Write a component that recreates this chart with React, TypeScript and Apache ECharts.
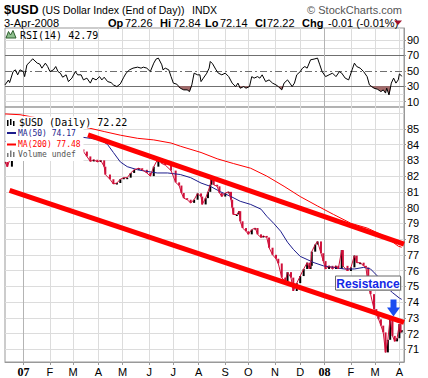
import React, { useEffect, useRef } from "react";
import * as echarts from "echarts";

// Trading-day offsets (weekdays only): 0 = Mon 1 Jan 2007
const FIRST_DAY = -16; // Fri 8 Dec 2006
const LAST_DAY = 330;

// [trading day, close]
const priceCloses: [number, number][] = [
  [-16, 82.9], [-14, 82.6], [-10, 83.4], [-5, 83.7], [0, 84.0], [5, 84.6], [10, 84.9], [15, 84.4],
  [20, 84.2], [25, 84.5], [30, 84.1], [35, 83.6], [40, 83.9], [45, 83.3], [50, 83.7], [52, 83.56],
  [55, 83.25], [58, 82.93], [61, 83.04], [64, 82.9], [67, 83.0], [70, 82.6], [71, 82.1], [75, 81.8],
  [78, 81.5], [81, 81.56], [84, 81.8], [87, 81.9], [90, 81.9], [93, 82.2], [96, 82.4], [100, 82.5],
  [103, 82.4], [107, 82.2], [110, 82.0], [113, 82.6], [117, 83.15], [120, 82.8], [123, 82.7], [128, 82.35],
  [132, 81.6], [135, 81.4], [137, 80.93], [139, 80.6], [142, 80.5], [145, 80.3], [148, 80.5], [151, 80.9],
  [154, 80.7], [155, 80.2], [158, 80.6], [160, 81.0], [162, 81.45], [163, 82.0], [165, 81.45], [168, 81.35],
  [170, 80.93], [172, 80.7], [175, 80.93], [178, 81.0], [180, 80.5], [181, 80.0], [182, 79.56], [185, 79.56],
  [187, 79.77], [188, 79.13], [190, 78.7], [193, 78.5], [195, 78.3], [198, 78.6], [201, 78.7], [203, 78.3],
  [206, 78.1], [208, 78.2], [211, 78.1], [213, 77.45], [216, 77.0], [219, 76.75], [221, 76.45], [224, 75.55],
  [227, 75.3], [229, 75.9], [232, 75.55], [234, 74.7], [237, 75.2], [240, 75.65], [243, 76.1], [246, 76.5],
  [248, 76.1], [249, 76.3], [250, 77.2], [253, 77.65], [255, 77.85], [258, 77.1], [260, 76.6], [262, 76.1],
  [265, 76.3], [268, 76.1], [271, 76.3], [273, 76.1], [276, 77.3], [277, 76.3], [281, 75.97], [284, 76.2],
  [287, 76.95], [289, 76.5], [292, 76.5], [295, 76.3], [297, 76.2], [299, 75.0], [301, 74.5], [304, 73.55],
  [306, 73.2], [308, 72.9], [310, 72.5], [312, 72.07], [314, 70.8], [316, 71.6], [318, 73.0], [320, 71.85],
  [322, 71.5], [324, 71.7], [326, 72.6], [327, 72.07], [328, 72.22],
];

const ma50: [number, number][] = [
  [-16, 84.2], [0, 84.3], [20, 84.5], [35, 84.55], [48, 84.5], [58, 84.4], [67, 84.3], [73, 84.0],
  [78, 83.5], [84, 82.9], [90, 82.6], [99, 82.4], [107, 82.3], [116, 82.2], [125, 82.2], [136, 82.1],
  [145, 81.9], [154, 81.56], [162, 81.35], [171, 81.0], [180, 80.7], [188, 80.4], [197, 80.2], [206, 79.9],
  [211, 79.45], [217, 79.0], [223, 78.5], [229, 77.8], [234, 77.35], [240, 76.9], [246, 76.7], [252, 76.5],
  [260, 76.3], [269, 76.2], [278, 76.1], [287, 76.1], [295, 76.2], [301, 76.1], [307, 75.65], [314, 75.0],
  [320, 74.6], [326, 74.25], [328, 74.17],
];

const ma200: [number, number][] = [
  [-16, 85.95], [-3, 85.9], [23, 85.55], [41, 85.3], [57, 85.05], [70, 84.83], [84, 84.6], [99, 84.4],
  [113, 84.3], [128, 84.1], [136, 83.9], [154, 83.5], [168, 83.1], [182, 82.8], [197, 82.5], [211, 82.0],
  [226, 81.35], [240, 80.7], [255, 80.1], [269, 79.56], [284, 79.0], [298, 78.7], [307, 78.4], [315, 78.1],
  [325, 77.55], [328, 77.48],
];

const rsi14: [number, number][] = [
  [-16, 31.7], [-13, 38], [-12, 34.7], [-9, 49], [-7, 51.3], [-5, 44.8], [-3, 51.3], [0, 49], [1, 42.5],
  [3, 57.8], [6, 62.2], [8, 65.7], [12, 60], [14, 59], [16, 53.5], [19, 60], [21, 55.6], [23, 49],
  [26, 51.3], [28, 55.6], [30, 49], [32, 47], [34, 41.7], [37, 44.8], [39, 36], [42, 40.5], [45, 49],
  [47, 44.8], [50, 44.8], [52, 38.2], [55, 40.5], [58, 34], [60, 40.5], [63, 38.2], [66, 42.5], [68, 38.2],
  [70, 41.7], [73, 36], [76, 34.7], [78, 31.7], [81, 29.5], [84, 33], [87, 41.7], [89, 47], [92, 51.3],
  [95, 53.5], [99, 54.8], [102, 53.5], [104, 54.8], [107, 53.5], [110, 49], [113, 60], [115, 65.3],
  [117, 66.6], [120, 57.8], [121, 51.3], [123, 53.5], [126, 51.3], [128, 42.5], [130, 34], [133, 32.6],
  [136, 27.4], [139, 25.2], [142, 25.2], [144, 23], [146, 31.7], [148, 47], [151, 44.8], [153, 44.8],
  [154, 36], [156, 40.5], [159, 47], [161, 53.5], [162, 62.2], [164, 59.2], [167, 51.3], [169, 47],
  [172, 44.8], [175, 47], [178, 42.5], [181, 34], [184, 29.5], [186, 34], [188, 27.4], [191, 29.5],
  [193, 27.4], [196, 29.5], [198, 42.5], [200, 40.5], [203, 42.5], [205, 40.5], [207, 44.8], [210, 36],
  [213, 38.2], [216, 34], [219, 31.7], [221, 29.5], [224, 25.2], [226, 34], [229, 38.2], [231, 34],
  [233, 29.5], [235, 34], [237, 44.8], [240, 49], [242, 53.5], [244, 55.6], [246, 53.5], [249, 64.4],
  [252, 65.3], [255, 66.6], [257, 57.8], [259, 49], [262, 42.5], [265, 44.8], [268, 47], [271, 42.5],
  [274, 49], [276, 47], [279, 40.5], [282, 38.2], [285, 51.3], [287, 60], [289, 55.6], [292, 53.5],
  [295, 49], [298, 42.5], [300, 31.7], [304, 27.4], [307, 26], [310, 23], [312, 25.2], [314, 21],
  [315, 27.4], [317, 18.6], [319, 34], [321, 40.5], [323, 34], [325, 38.2], [326, 46], [327, 45],
  [328, 42.79],
];

// Drawn trend channel (two anchor points each)
const upperTrend: [number, number][] = [[56, 84.62], [330, 77.68]];
const lowerTrend: [number, number][] = [[-12, 81.1], [330, 72.71]];

const priceTicks = [71, 72, 73, 74, 75, 76, 77, 78, 79, 80, 81, 82, 83, 84, 85];
const priceGridLevels = [71, 72, 73, 74, 75, 76, 77, 78, 79, 80, 81, 82, 83, 84, 85, 86];
const rsiTicks = [10, 30, 50, 70, 90];
const rsiLightLevels = [10, 20, 80, 90];
const rsiBandLevels = [30, 70];
const rsiMidLevels = [50];

const headerSymbol = "$USD";
const headerName = "(US Dollar Index (End of Day))";
const headerExchange = "INDX";
const headerCopyright = "\u00A9 StockCharts.com";
const headerDate = "3-Apr-2008";
const statLabels = ["Op", "Hi", "Lo", "Cl", "Chg"];
const statValues = ["72.26", "72.84", "72.14", "72.22", "-0.01 (-0.01%)"];
const annotationText = "Resistance";

const MONTH_LETTERS = "JFMAMJJASOND";

function dayToDate(d: number): string {
  const w = Math.floor(d / 5);
  const dow = d - w * 5;
  return new Date(Date.UTC(2007, 0, 1 + w * 7 + dow)).toISOString().slice(0, 10);
}

const categories: string[] = [];
for (let d = FIRST_DAY; d <= LAST_DAY; d++) categories.push(dayToDate(d));
const monthStart = categories.map((c, i) => i > 0 && c.slice(5, 7) !== categories[i - 1].slice(5, 7));
const yearStarts = categories.filter((c, i) => monthStart[i] && c.slice(5, 7) === "01");
const idx = (d: number) => d - FIRST_DAY;
const toPairs = (arr: [number, number][]) => arr.map(([d, v]) => [idx(d), v]);

// bar from previous close to this close
const barData = priceCloses.map(([d, c], i) => [idx(d), i > 0 ? priceCloses[i - 1][1] : c, c]);

const last = (a: [number, number][]) => a[a.length - 1][1];

const RED = "#d0103a";
const GRID_LIGHT = "#dcdcdc";
const YEAR_LINE = "#b4b4b4";
const FONT = "Liberation Sans";
const MONO = "DejaVu Sans Mono";

function xAxisFor(gridIndex: number, showLabels: boolean) {
  return {
    type: "category",
    gridIndex,
    data: categories,
    boundaryGap: false,
    axisLine: { show: showLabels, lineStyle: { color: "#999" } },
    axisTick: {
      show: showLabels,
      interval: (i: number) => monthStart[i],
      length: 3,
      lineStyle: { color: "#999" },
    },
    axisLabel: {
      show: showLabels,
      interval: (i: number) => monthStart[i],
      margin: 4,
      fontSize: 11,
      fontFamily: FONT,
      color: "#000",
      formatter: (v: string) => {
        const m = Number(v.slice(5, 7)) - 1;
        return m === 0 ? "{yr|" + v.slice(2, 4) + "}" : MONTH_LETTERS[m];
      },
      rich: { yr: { fontFamily: "Liberation Serif", fontWeight: "bold", fontSize: 12, color: "#000" } },
    },
    splitLine: {
      show: true,
      interval: (i: number) => monthStart[i] && categories[i].slice(5, 7) !== "01",
      lineStyle: { color: GRID_LIGHT, width: 1 },
    },
  };
}

const hLine = (v: number, color: string, type: any = "solid") => ({
  yAxis: v,
  lineStyle: { color, width: 1, type },
});
const vYear = (c: string) => ({ xAxis: c, lineStyle: { color: YEAR_LINE, width: 1, type: "solid" } });

const markLineBase = {
  z: 1,
  silent: true,
  symbol: ["none", "none"],
  label: { show: false },
  animation: false,
};

const headerX = { symbol: 4, name: 42, exchange: 192, copyrightRight: 402, date: 4 };
const statX = [108, 160, 205, 255, 302];
const statValX = [125, 173, 220, 267, 328];

const graphic: any[] = [
  { type: "text", z: 100, style: { text: headerSymbol, x: headerX.symbol, y: 9, font: `bold 13px "${FONT}"`, fill: "#000", verticalAlign: "middle" } },
  { type: "text", z: 100, style: { text: headerName, x: headerX.name, y: 9.5, font: `10.5px "${FONT}"`, fill: "#000", verticalAlign: "middle" } },
  { type: "text", z: 100, style: { text: headerExchange, x: headerX.exchange, y: 9.5, font: `10.5px "${FONT}"`, fill: "#000", verticalAlign: "middle" } },
  { type: "text", z: 100, style: { text: headerCopyright, x: headerX.copyrightRight, y: 9.5, font: `11px "${FONT}"`, fill: "#555", align: "right", verticalAlign: "middle" } },
  { type: "text", z: 100, style: { text: headerDate, x: headerX.date, y: 23, font: `11px "${FONT}"`, fill: "#000", verticalAlign: "middle" } },
  ...statLabels.map((t, i) => ({ type: "text", z: 100, style: { text: t, x: statX[i], y: 23, font: `bold 11px "${FONT}"`, fill: "#000", verticalAlign: "middle" } })),
  ...statValues.map((t, i) => ({ type: "text", z: 100, style: { text: t, x: statValX[i], y: 23, font: `11px "${FONT}"`, fill: "#000", verticalAlign: "middle" } })),
  { type: "polygon", z: 100, shape: { points: [[394, 20.5], [402, 20.5], [398, 25]] }, style: { fill: "#a0102a" } },

  // RSI label
  { type: "polygon", z: 100, shape: { points: [[6, 38], [8.5, 31.5], [10.5, 35], [13, 30.5], [16, 38]] }, style: { fill: "#8fbf8f", stroke: "#2f5f2f", lineWidth: 1 } },
  { type: "text", z: 100, style: { text: `RSI(14) ${last(rsi14).toFixed(2)}`, x: 20, y: 35, font: `10px "${MONO}"`, fill: "#000", verticalAlign: "middle" } },

  // Price legend (opaque)
  { type: "rect", z: 99, shape: { x: 5.5, y: 116.5, width: 122, height: 11.5 }, style: { fill: "#fff" } },
  { type: "rect", z: 99, shape: { x: 5.5, y: 128, width: 78, height: 33 }, style: { fill: "#fff" } },
  { type: "rect", z: 100, shape: { x: 7, y: 120, width: 1.5, height: 6 }, style: { fill: "#000" } },
  { type: "rect", z: 100, shape: { x: 10, y: 119, width: 1.5, height: 6 }, style: { fill: "#000" } },
  { type: "rect", z: 100, shape: { x: 13, y: 121, width: 1.5, height: 5 }, style: { fill: "#000" } },
  { type: "text", z: 100, style: { text: `${headerSymbol} (Daily) ${last(priceCloses).toFixed(2)}`, x: 19, y: 122.5, font: `10px "${MONO}"`, fill: "#000", verticalAlign: "middle" } },
  { type: "rect", z: 100, shape: { x: 7, y: 132, width: 9, height: 2 }, style: { fill: "#1c1c8c" } },
  { type: "text", z: 100, style: { text: `MA(50) ${last(ma50).toFixed(2)}`, x: 18, y: 133, font: `8px "${MONO}"`, fill: "#1c1c8c", verticalAlign: "middle" } },
  { type: "rect", z: 100, shape: { x: 7, y: 143.5, width: 9, height: 2 }, style: { fill: "#ff0000" } },
  { type: "text", z: 100, style: { text: `MA(200) ${last(ma200).toFixed(2)}`, x: 18, y: 144, font: `8px "${MONO}"`, fill: "#ff0000", verticalAlign: "middle" } },
  { type: "rect", z: 100, shape: { x: 7, y: 153, width: 1.5, height: 4 }, style: { fill: "#777" } },
  { type: "rect", z: 100, shape: { x: 10, y: 150.5, width: 1.5, height: 6.5 }, style: { fill: "#777" } },
  { type: "rect", z: 100, shape: { x: 13, y: 152, width: 1.5, height: 5 }, style: { fill: "#777" } },
  { type: "text", z: 100, style: { text: "Volume undef", x: 18, y: 154.5, font: `8px "${MONO}"`, fill: "#555", verticalAlign: "middle" } },

  // Resistance annotation
  { type: "rect", z: 100, shape: { x: 336.5, y: 277, width: 65, height: 14 }, style: { fill: "#b8b8b8" } },
  { type: "rect", z: 101, shape: { x: 335.5, y: 276, width: 65, height: 14 }, style: { fill: "#fff", stroke: "#6a6a6a", lineWidth: 1 } },
  { type: "text", z: 102, style: { text: annotationText, x: 368, y: 283.5, font: `bold 12px "${FONT}"`, fill: "#1428e6", align: "center", verticalAlign: "middle" } },
  { type: "polygon", z: 100, shape: { points: [[390.5, 299.5], [396.5, 299.5], [396.5, 307.5], [400, 307.5], [393.5, 316.5], [387, 307.5], [390.5, 307.5]] }, style: { fill: "#1a4cf0" } },
];

const option: any = {
  animation: false,
  textStyle: { fontFamily: FONT },
  grid: [
    { left: 5, right: 24, top: 28, height: 79, show: true, borderColor: "#999", borderWidth: 1, backgroundColor: "transparent" },
    { left: 5, right: 24, top: 107, height: 256, show: true, borderColor: "#999", borderWidth: 1, backgroundColor: "transparent" },
  ],
  xAxis: [xAxisFor(0, false), xAxisFor(1, true)],
  yAxis: [
    {
      type: "value", gridIndex: 0, position: "right", min: 2.9, max: 105.8,
      axisLine: { show: true, lineStyle: { color: "#999" } },
      axisTick: { show: true, customValues: rsiTicks, length: 2, lineStyle: { color: "#999" } },
      axisLabel: { customValues: rsiTicks, fontSize: 11, color: "#000", margin: 3, fontFamily: FONT },
      splitLine: { show: false },
    },
    {
      type: "value", gridIndex: 1, position: "right", min: 70.19, max: 86.39,
      axisLine: { show: true, lineStyle: { color: "#999" } },
      axisTick: { show: true, customValues: priceTicks, length: 2, lineStyle: { color: "#999" } },
      axisLabel: { customValues: priceTicks, fontSize: 11, color: "#000", margin: 3, fontFamily: FONT },
      splitLine: { show: false },
    },
  ],
  series: [
    {
      name: "RSI fill", type: "line", xAxisIndex: 0, yAxisIndex: 0, symbol: "none", silent: true,
      data: toPairs(rsi14).map(([k, v]) => [k, Math.min(v, 30)]),
      lineStyle: { width: 0, opacity: 0 },
      areaStyle: { origin: 30, color: "#a36a6a", opacity: 1 },
      markLine: {
        ...markLineBase,
        data: [
          ...rsiLightLevels.map((v) => hLine(v, GRID_LIGHT)),
          ...rsiBandLevels.map((v) => hLine(v, "#707070")),
          ...rsiMidLevels.map((v) => hLine(v, "#707070", [7, 3, 2, 3])),
          ...yearStarts.map(vYear),
        ],
      },
    },
    {
      name: "RSI(14)", type: "line", xAxisIndex: 0, yAxisIndex: 0, symbol: "none", silent: true,
      data: toPairs(rsi14), lineStyle: { color: "#000", width: 1 },
    },
    {
      name: "MA(200)", type: "line", xAxisIndex: 1, yAxisIndex: 1, symbol: "none", silent: true,
      data: toPairs(ma200), lineStyle: { color: "#ff0000", width: 1 },
      markLine: {
        ...markLineBase,
        data: [...priceGridLevels.map((v) => hLine(v, GRID_LIGHT)), ...yearStarts.map(vYear)],
      },
    },
    {
      name: "MA(50)", type: "line", xAxisIndex: 1, yAxisIndex: 1, symbol: "none", silent: true,
      data: toPairs(ma50), lineStyle: { color: "#1c1c8c", width: 1 },
    },
    {
      name: "Close", type: "line", xAxisIndex: 1, yAxisIndex: 1, symbol: "none", silent: true,
      data: toPairs(priceCloses), lineStyle: { color: RED, width: 1 },
    },
    {
      name: "$USD", type: "custom", xAxisIndex: 1, yAxisIndex: 1, silent: true, clip: true,
      data: barData,
      encode: { x: 0, y: [1, 2] },
      renderItem: (params: any, api: any) => {
        const k = api.value(0);
        const o = api.value(1);
        const c = api.value(2);
        const p1 = api.coord([k, o]);
        const p2 = api.coord([k, c]);
        const top = Math.min(p1[1], p2[1]);
        const h = Math.max(1.5, Math.abs(p2[1] - p1[1]));
        return {
          type: "rect",
          shape: { x: p2[0] - 1, y: top, width: 2, height: h },
          style: { fill: c >= o ? "#000" : RED },
        };
      },
    },
    {
      name: "Upper trend", type: "line", xAxisIndex: 1, yAxisIndex: 1, symbol: "none", silent: true, z: 5,
      data: toPairs(upperTrend), lineStyle: { color: "#ff0000", width: 5 },
    },
    {
      name: "Lower trend", type: "line", xAxisIndex: 1, yAxisIndex: 1, symbol: "none", silent: true, z: 5,
      data: toPairs(lowerTrend), lineStyle: { color: "#ff0000", width: 5 },
    },
  ],
  graphic,
};

export default function App() {
  const ref = useRef<HTMLDivElement>(null);
  useEffect(() => {
    if (!ref.current) return;
    const chart = echarts.init(ref.current, null, { renderer: "svg" });
    chart.setOption(option);
    return () => chart.dispose();
  }, []);
  return (
    <div
      ref={ref}
      style={{ position: "absolute", left: 0, top: 0, width: 428, height: 378, background: "#fff" }}
    />
  );
}
